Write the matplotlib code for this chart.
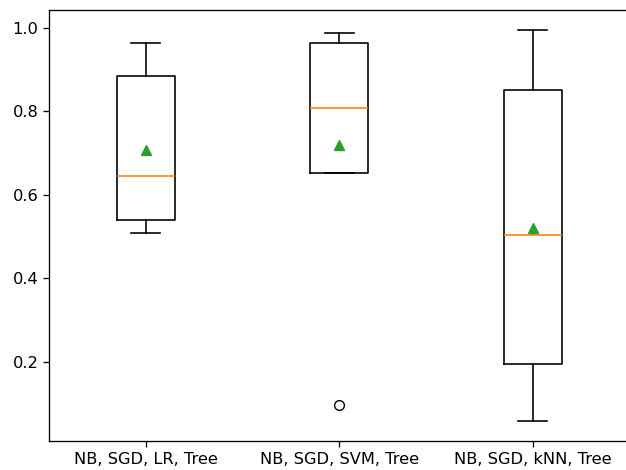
import matplotlib
matplotlib.use("Agg")
import matplotlib.pyplot as plt

labels = ["NB, SGD, LR, Tree", "NB, SGD, SVM, Tree", "NB, SGD, kNN, Tree"]
whislo = [0.508, 0.651, 0.057]
q1 = [0.539, 0.651, 0.195]
med = [0.644, 0.807, 0.503]
q3 = [0.883, 0.964, 0.850]
whishi = [0.964, 0.988, 0.995]
means = [0.706, 0.718, 0.520]
fliers = [[], [0.097], []]

s = 1.17
plt.rcParams.update({
    "font.size": 10 * s,
    "lines.linewidth": 1.5 * s,
    "axes.linewidth": 0.8 * s,
    "xtick.major.size": 3.5 * s,
    "ytick.major.size": 3.5 * s,
    "xtick.major.width": 0.8 * s,
    "ytick.major.width": 0.8 * s,
    "lines.markersize": 6 * s,
    "boxplot.flierprops.markersize": 6 * s,
    "boxplot.meanprops.markersize": 6 * s,
    "boxplot.boxprops.linewidth": 1.0 * s,
    "boxplot.whiskerprops.linewidth": 1.0 * s,
    "boxplot.capprops.linewidth": 1.0 * s,
    "boxplot.medianprops.linewidth": 1.0 * s,
    "boxplot.flierprops.linewidth": 1.0 * s,
})

stats = []
for i in range(len(labels)):
    stats.append(dict(label=labels[i], whislo=whislo[i], q1=q1[i], med=med[i],
                      q3=q3[i], whishi=whishi[i], mean=means[i], fliers=fliers[i]))

fig = plt.figure(figsize=(6.26, 4.70), dpi=100)
W, H = 626, 470
ax = fig.add_axes([49 / W, 29 / H, (629.5 - 49) / W, (441 - 10) / H])
ax.bxp(stats, showmeans=True)
fig.savefig("out.png", dpi=100)
